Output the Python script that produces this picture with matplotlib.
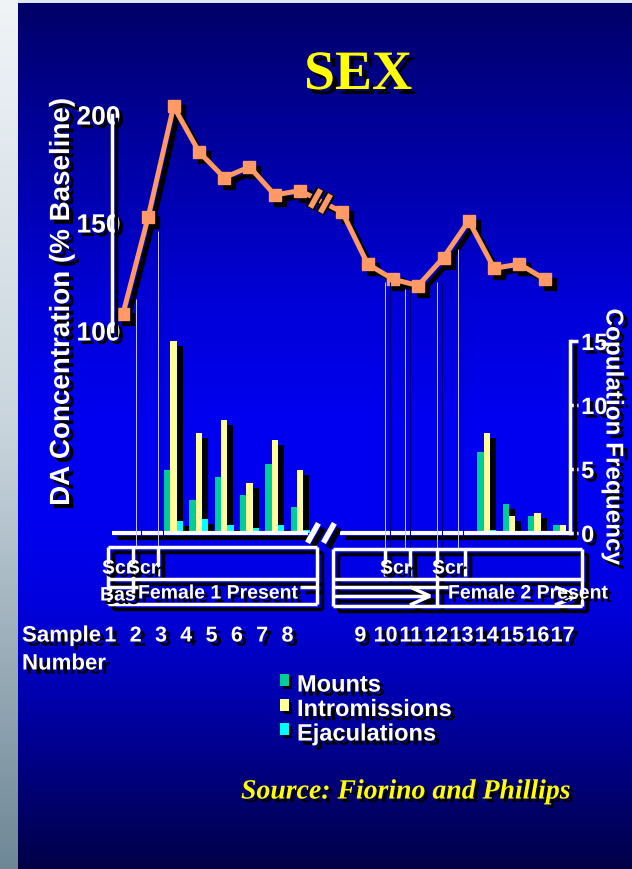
import numpy as np
import matplotlib
matplotlib.use("Agg")
import matplotlib.pyplot as plt
import matplotlib.patheffects as pe
import matplotlib.transforms as mtransforms
from matplotlib.collections import LineCollection
from matplotlib.patches import Rectangle

plt.rcParams['font.family'] = ['Liberation Sans', 'DejaVu Sans']

# ---- data ----
samples = np.arange(1, 18)
da_pct = np.array([108, 153, 204, 183, 171, 176, 163, 165, 155,
                   131, 124, 121, 134, 151, 129, 131, 124])
mounts = np.array([0, 0, 4.9, 2.6, 4.4, 3.0, 5.4, 2.0, 0,
                   0, 0, 0, 0, 6.3, 2.3, 1.3, 0.6])
intromissions = np.array([0, 0, 15.0, 7.8, 8.8, 3.9, 7.3, 4.9, 0,
                          0, 0, 0, 0, 7.8, 1.3, 1.6, 0.6])
ejaculations = np.array([0, 0, 0.9, 1.1, 0.6, 0.4, 0.6, 0.2, 0,
                         0, 0, 0, 0, 0.2, 0, 0, 0])
da_ticks = [100, 150, 200]
freq_ticks = [0, 5, 10, 15]
series_names = ["Mounts", "Intromissions", "Ejaculations"]
series_colors = ["#00cc99", "#ffff99", "#00ffff"]
line_color = "#ff9966"

W, H = 632, 870
fig = plt.figure(figsize=(W / 100, H / 100), dpi=100)


def shadow(d=3.0):
    return [pe.SimplePatchShadow(offset=(d, -d), shadow_rgbFace='k', alpha=1), pe.Normal()]


# ---- slide background ----
bg = fig.add_axes([0, 0, 1, 1], zorder=-10)
yy = np.arange(H)
img = np.zeros((H, W, 3))
img[:, :, 2] = np.interp(yy, [0, 10, 120, 300, 420, 520, 600, 700, 800, 870],
                         [100, 105, 150, 215, 240, 240, 222, 172, 110, 70])[:, None] / 255
for c, (t, m, b) in enumerate([(240, 200, 110), (244, 212, 135), (247, 220, 150)]):
    img[:, :18, c] = np.interp(yy, [0, 435, 870], [t, m, b])[:, None] / 255
img[:4, 18:, :] = np.array([225, 232, 238]) / 255
bg.imshow(img, extent=(0, W, H, 0), aspect='auto')
bg.set_xlim(0, W)
bg.set_ylim(H, 0)
bg.axis('off')

x_lo, x_hi = 0.565, 18.67

# ---- DA concentration line ----
axl = fig.add_axes([112 / W, 1 - 332 / H, 458 / W, 216 / H], zorder=3)
axl.patch.set_alpha(0)
axl.set_xlim(x_lo, x_hi)
axl.set_ylim(100, 200)
line_x = samples + np.where(samples >= 9, 0.67, 0.0)
sh = mtransforms.offset_copy(axl.transData, fig=fig, x=5, y=-5, units='dots')
axl.plot(line_x, da_pct, color='k', lw=3.6, marker='s', ms=9, mec='k',
         transform=sh, clip_on=False)
axl.plot(line_x, da_pct, color=line_color, lw=3.6, marker='s', ms=9,
         mec=line_color, clip_on=False)
brk = np.array([8.59, 8.98])
brk_y = np.interp(brk, line_x, da_pct)
stroke = [(-0.28, -0.5), (0.28, 0.5)]
axl.plot(brk, brk_y, ls='none', marker=stroke, ms=14, mew=7, mec='k', clip_on=False)
axl.plot(brk, brk_y, ls='none', marker=stroke, ms=13, mew=4, mec=line_color, clip_on=False)
for s in ['top', 'right', 'bottom']:
    axl.spines[s].set_visible(False)
axl.spines['left'].set_color('white')
axl.spines['left'].set_linewidth(2.5)
axl.spines['left'].set_path_effects([pe.SimpleLineShadow(offset=(3, -3), shadow_color='k', alpha=1), pe.Normal()])
axl.set_xticks([])
axl.set_yticks(da_ticks)
axl.tick_params(axis='y', length=0, pad=-6, labelsize=19, labelcolor='white')
for t in axl.get_yticklabels():
    t.set_fontweight('bold')
    t.set_path_effects(shadow(2.5))

# ---- copulation frequency bars ----
axb = fig.add_axes([112 / W, 1 - 534 / H, 458 / W, 192 / H], zorder=2)
axb.patch.set_alpha(0)
axb.set_xlim(x_lo, x_hi)
axb.set_ylim(0, 15)
bar_x = samples + np.where(samples >= 9, 1.38, 0.0)
for k, (vals, col) in enumerate(zip([mounts, intromissions, ejaculations], series_colors)):
    bars = axb.bar(bar_x + (k - 1) * 0.25, vals, width=0.25, color=col, linewidth=0)
    for b in bars:
        b.set_path_effects([pe.SimplePatchShadow(offset=(4.3, -3.6), shadow_rgbFace='k', alpha=1),
                            pe.Normal()])
line_fx = [pe.SimpleLineShadow(offset=(3.5, -3.5), shadow_color='k', alpha=1), pe.Normal()]
axb.plot([x_lo, 8.31], [0, 0], color='white', lw=3, clip_on=False, solid_capstyle='butt',
         path_effects=line_fx)
axb.plot([9.58, x_hi], [0, 0], color='white', lw=3, clip_on=False, solid_capstyle='butt',
         path_effects=line_fx)
axb.plot([8.51, 9.14], [0, 0], ls='none', marker=stroke, ms=14, mew=4, mec='white',
         clip_on=False, path_effects=line_fx)
for s in ['top', 'left', 'bottom']:
    axb.spines[s].set_visible(False)
axb.spines['right'].set_color('white')
axb.spines['right'].set_linewidth(2.5)
axb.spines['right'].set_path_effects(line_fx)
axb.set_xticks([])
axb.yaxis.tick_right()
axb.set_yticks(freq_ticks)
axb.tick_params(axis='y', colors='white', length=6, width=2.5, labelsize=17, pad=2)
for t in axb.get_yticklabels():
    t.set_fontweight('bold')
    t.set_path_effects(shadow(2.5))

# ---- overlay: titles, labels, boxes ----
ov = fig.add_axes([0, 0, 1, 1], zorder=5)
ov.patch.set_alpha(0)
ov.set_xlim(0, W)
ov.set_ylim(H, 0)
ov.axis('off')

ov.text(358, 76, "SEX", ha='center', va='center', fontsize=40, family='Liberation Serif',
        weight='bold', color='#ffff00', path_effects=shadow(3.5))
ov.text(241, 793, "Source: Fiorino and Phillips", ha='left', va='center', fontsize=20,
        family='Liberation Serif', style='italic', weight='bold', color='#ffff00',
        path_effects=shadow(2.5))
ov.text(62, 303, "DA Concentration (% Baseline)", rotation=90, ha='center', va='center',
        fontsize=20, weight='bold', color='white', path_effects=shadow(3))
ov.text(613, 438, "Copulation Frequency", rotation=270, ha='center', va='center',
        fontsize=17.5, weight='bold', color='white', path_effects=shadow(3))

# thin connectors from the DA curve to the sampling boxes
conn = [((136, 300), (136, 548)), ((158, 232), (158, 548)),
        ((385, 283), (385, 550)), ((405, 290), (405, 550)),
        ((437, 283), (437, 550)), ((458, 250), (458, 550))]
ov.add_collection(LineCollection([[(a[0] + 5, a[1]), (b[0] + 5, b[1])] for a, b in conn],
                                 colors='#000070', linewidths=0.8))
ov.add_collection(LineCollection(conn, colors='#c8c8f0', linewidths=0.7))

# sampling / condition boxes
segs = [
    ((108, 548), (317, 548)), ((108, 580), (317, 580)), ((108, 548), (108, 605)),
    ((317, 548), (317, 605)), ((108, 588), (138, 588)), ((300, 588), (317, 588)),
    ((108, 605), (317, 605)), ((133, 548), (133, 597)), ((158, 548), (158, 577)),
    ((333, 550), (582, 550)), ((333, 580), (582, 580)), ((333, 550), (333, 607)),
    ((582, 550), (582, 607)), ((437, 550), (437, 607)), ((333, 588), (437, 588)),
    ((437, 588), (448, 588)), ((333, 607), (582, 607)),
    ((385, 550), (385, 577)), ((410, 550), (410, 577)), ((465, 550), (465, 577)),
    ((333, 597), (430, 597)), ((410, 588), (430, 597)), ((430, 597), (410, 606)),
    ((555, 588), (578, 597)), ((578, 597), (555, 606)),
]
ov.add_collection(LineCollection([[(a[0] + 5, a[1] + 5), (b[0] + 5, b[1] + 5)] for a, b in segs],
                                 colors='k', linewidths=2.5))
ov.add_collection(LineCollection(segs, colors='white', linewidths=2.5))

box_txt = dict(fontsize=14, weight='bold', color='white', va='center', ha='left',
               path_effects=shadow(2.5))
ov.text(102, 570, "Scr", **box_txt)
ov.text(127, 570, "Scr", **box_txt)
ov.text(100, 597, "Bas", **box_txt)
ov.text(138, 595, "Female 1 Present", **box_txt)
ov.text(380, 570, "Scr", **box_txt)
ov.text(432, 570, "Scr", **box_txt)
ov.text(448, 595, "Female 2 Present", **box_txt)

# sample numbers
lab = dict(weight='bold', color='white', va='center', path_effects=shadow(3))
ov.text(22, 637, "Sample", ha='left', fontsize=16, **lab)
ov.text(22, 665, "Number", ha='left', fontsize=16, **lab)
tr = mtransforms.blended_transform_factory(axb.transData, ov.transData)
label_x = bar_x - np.where(samples <= 8, 0.5, 0.0)
for xv, s in zip(label_x, samples):
    ov.text(xv, 637, str(s), ha='center', transform=tr, fontsize=15.5, **lab)

# legend
for i, (name, col) in enumerate(zip(series_names, series_colors)):
    y0 = 675 + i * 24.5
    ov.add_patch(Rectangle((283, y0 + 3), 9, 12, color='k', lw=0))
    ov.add_patch(Rectangle((280, y0), 9, 12, color=col, lw=0))
    ov.text(297, y0 + 11, name, ha='left', va='center', fontsize=17, weight='bold',
            color='white', path_effects=shadow(3))

fig.savefig("out.png", dpi=100)
